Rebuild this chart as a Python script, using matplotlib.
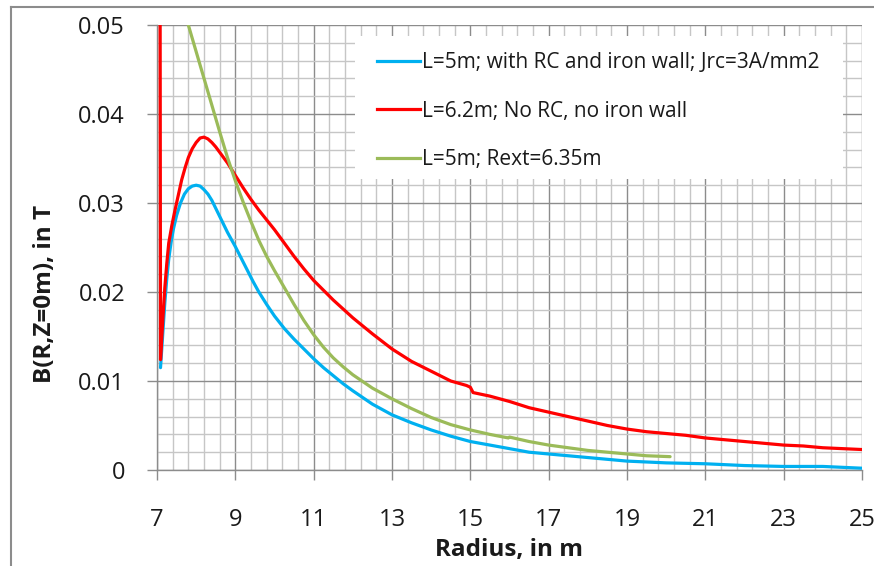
import matplotlib
matplotlib.use("Agg")
import matplotlib.pyplot as plt
import numpy as np
from matplotlib.lines import Line2D
from matplotlib.patches import Rectangle

# ---- data ----
r_blue = [7.09, 7.15, 7.2, 7.25, 7.3, 7.36, 7.42, 7.5, 7.6, 7.7, 7.8, 7.9, 8.0, 8.1,
          8.2, 8.3, 8.4, 8.5, 8.6, 8.7, 8.8, 8.9, 9.0, 9.15, 9.3, 9.45, 9.6, 9.8,
          10.0, 10.25, 10.5, 10.75, 11.0, 11.25, 11.5, 11.75, 12.0, 12.5, 13.0,
          13.5, 14.0, 14.5, 15.0, 15.5, 16.0, 16.5, 17.0, 17.5, 18.0, 18.5, 19.0,
          19.5, 20.0, 21.0, 22.0, 23.0, 24.0, 25.0]
b_blue = [0.0115, 0.0155, 0.0188, 0.0215, 0.0237, 0.0256, 0.0271, 0.0286, 0.0300,
          0.0310, 0.0316, 0.0319, 0.0320, 0.0319, 0.0315, 0.0310, 0.0303, 0.0294,
          0.0285, 0.0276, 0.0267, 0.0259, 0.0251, 0.0238, 0.0225, 0.0212, 0.0200,
          0.0186, 0.0173, 0.0159, 0.0147, 0.0136, 0.0125, 0.0115, 0.0106, 0.0097,
          0.0089, 0.0074, 0.0062, 0.0053, 0.0045, 0.0038, 0.0032, 0.0028, 0.0024,
          0.0020, 0.0018, 0.0016, 0.0014, 0.0012, 0.0010, 0.0009, 0.0008, 0.0007,
          0.0005, 0.0004, 0.0004, 0.0002]

r_red = [7.07, 7.09, 7.15, 7.2, 7.25, 7.3, 7.38, 7.46, 7.55, 7.63, 7.72, 7.8, 7.9,
         8.0, 8.1, 8.2, 8.3, 8.4, 8.5, 8.6, 8.7, 8.8, 8.9, 9.0, 9.2, 9.4, 9.6, 9.8,
         10.0, 10.25, 10.5, 10.75, 11.0, 11.25, 11.5, 11.75, 12.0, 12.5, 13.0, 13.5,
         14.0, 14.5, 14.9, 15.0, 15.07, 15.5, 16.0, 16.5, 17.0, 17.5, 18.0, 18.5,
         19.0, 19.5, 20.0, 20.5, 21.0, 21.5, 22.0, 22.5, 23.0, 23.5, 24.0, 24.5, 25.0]
b_red = [0.0900, 0.0124, 0.0170, 0.0205, 0.0232, 0.0255, 0.0275, 0.0292, 0.0310,
         0.0326, 0.0340, 0.0351, 0.0361, 0.0368, 0.0373, 0.0374, 0.0372, 0.0368,
         0.0363, 0.0357, 0.0351, 0.0345, 0.0338, 0.0331, 0.0317, 0.0304, 0.0292,
         0.0281, 0.0270, 0.0255, 0.0240, 0.0226, 0.0213, 0.0202, 0.0191, 0.0181,
         0.0171, 0.0153, 0.0136, 0.0122, 0.0111, 0.0100, 0.0095, 0.0093, 0.0087,
         0.0083, 0.0077, 0.0070, 0.0065, 0.0060, 0.0055, 0.0050, 0.0046, 0.0043,
         0.0041, 0.0039, 0.0036, 0.0034, 0.0032, 0.0030, 0.0028, 0.0027, 0.0025,
         0.0024, 0.0023]

r_green = [7.7, 7.8, 7.9, 8.0, 8.2, 8.4, 8.6, 8.8, 8.9, 9.0, 9.2, 9.4, 9.6, 9.8, 10.0,
           10.25, 10.5, 10.75, 11.0, 11.25, 11.5, 11.75, 12.0, 12.5, 13.0, 13.5,
           14.0, 14.5, 15.0, 15.5, 15.97, 16.0, 16.5, 17.0, 17.5, 18.0, 18.5, 19.0,
           19.5, 20.1]
b_green = [0.0520, 0.0500, 0.0485, 0.0470, 0.0440, 0.0410, 0.0380, 0.0351, 0.0338,
           0.0325, 0.0301, 0.0279, 0.0258, 0.0240, 0.0224, 0.0205, 0.0186, 0.0168,
           0.0152, 0.0138, 0.0126, 0.0116, 0.0107, 0.0092, 0.0080, 0.0069, 0.0059,
           0.0051, 0.0045, 0.0040, 0.0036, 0.0037, 0.0032, 0.0028, 0.0025, 0.0022,
           0.0020, 0.0018, 0.0016, 0.0015]

labels = ["L=5m; with RC and iron wall; Jrc=3A/mm2",
          "L=6.2m; No RC, no iron wall",
          "L=5m; Rext=6.35m"]
x_ticks = [7, 9, 11, 13, 15, 17, 19, 21, 23, 25]
y_ticks = [0, 0.01, 0.02, 0.03, 0.04, 0.05]
y_ticklabels = ["0", "0.01", "0.02", "0.03", "0.04", "0.05"]

C_BLUE = "#00B0F0"
C_RED = "#FF0000"
C_GREEN = "#9BBB59"
C_MAJ = "#8c8c8c"
C_MIN = "#c6c6c6"
C_TXT = "#1a1a1a"

W, H = 874, 566
FONT = ["Open Sans", "DejaVu Sans"]

fig = plt.figure(figsize=(W / 100, H / 100), dpi=100)
ax = fig.add_axes([157 / W, 1 - 470 / H, (862 - 157) / W, (470 - 25) / H])

ax.set_xlim(7, 25)
ax.set_ylim(0, 0.05)
ax.set_xticks(x_ticks)
ax.set_xticks(np.arange(7, 25.01, 0.4), minor=True)
ax.set_yticks(y_ticks)
ax.set_yticks(np.arange(0, 0.0501, 0.002), minor=True)
ax.set_yticklabels(y_ticklabels, family=FONT, fontsize=17, color=C_TXT)
ax.set_xticklabels([str(t) for t in x_ticks], family=FONT, fontsize=17, color=C_TXT)

ax.grid(which="minor", color=C_MIN, linewidth=1.0, zorder=0)
ax.grid(which="major", color=C_MAJ, linewidth=1.0, zorder=0)
ax.set_axisbelow(True)
ax.tick_params(which="major", direction="out", length=7, width=1.0, color=C_MAJ)
ax.tick_params(axis="y", which="major", pad=16)
ax.tick_params(axis="x", which="major", pad=20)
ax.tick_params(which="minor", length=0)
for s in ("top", "right"):
    ax.spines[s].set_visible(False)
for s in ("left", "bottom"):
    ax.spines[s].set_color(C_MAJ)
    ax.spines[s].set_linewidth(1.0)

ax.plot(r_blue, b_blue, color=C_BLUE, lw=2.3, zorder=3, solid_capstyle="round")
ax.plot(r_red, b_red, color=C_RED, lw=2.3, zorder=3, solid_capstyle="round")
ax.plot(r_green, b_green, color=C_GREEN, lw=2.3, zorder=3, solid_capstyle="round")

# legend background box
fig.add_artist(Rectangle((355 / W, 1 - 179 / H), (843 - 355) / W, (179 - 36) / H,
                         transform=fig.transFigure, facecolor="white",
                         edgecolor="none", zorder=4))
handles = [Line2D([], [], color=c, lw=2.3) for c in (C_BLUE, C_RED, C_GREEN)]
leg = fig.legend(handles, labels, loc="upper left",
                 bbox_to_anchor=(377 / W, 1 - 52 / H), bbox_transform=fig.transFigure,
                 frameon=False, borderpad=0, borderaxespad=0,
                 handlelength=2.05, handletextpad=0.1, labelspacing=1.32,
                 prop={"family": FONT, "size": 15})
leg.set_zorder(5)
for t in leg.get_texts():
    t.set_color(C_TXT)

fig.text(509 / W, 1 - 550 / H, "Radius, in m", ha="center", va="center",
         fontsize=17.5, fontweight="bold", family=FONT, color=C_TXT)
fig.text(45 / W, 1 - 294 / H, "B(R,Z=0m), in T", ha="center", va="center",
         rotation=90, fontsize=17.5, fontweight="bold", family=FONT, color=C_TXT)

# outer chart frame (left and top edges visible in the crop)
fig.add_artist(Line2D([11 / W, 11 / W], [0, 1 - 7 / H], transform=fig.transFigure,
                      color="#8c8c8c", lw=1.5))
fig.add_artist(Line2D([11 / W, 1], [1 - 7 / H, 1 - 7 / H], transform=fig.transFigure,
                      color="#8c8c8c", lw=1.5))

fig.savefig("out.png", dpi=100)
